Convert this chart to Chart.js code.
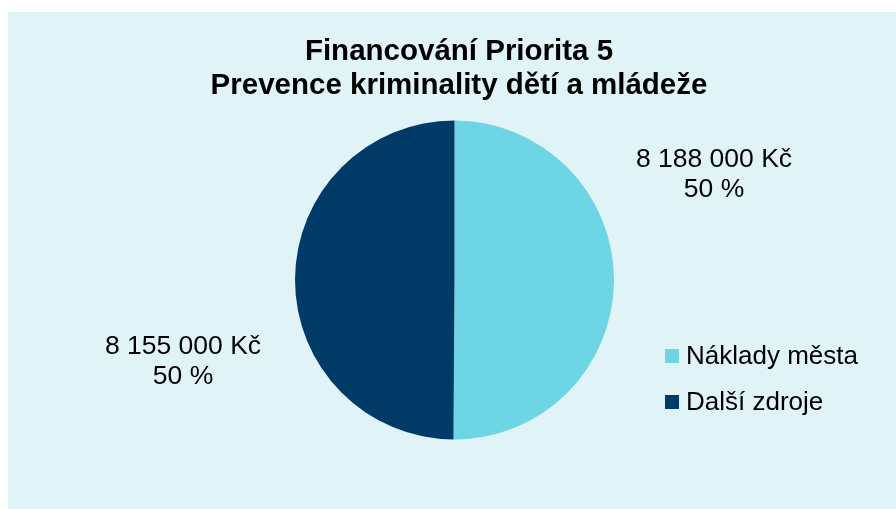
<!DOCTYPE html>
<html lang="cs">
<head>
  <meta charset="UTF-8" />
  <title>Financování Priorita 5</title>
  <script src="https://cdn.jsdelivr.net/npm/chart.js"></script>
  <style>
    body { margin: 0; background: #ffffff; }
    .panel {
      position: absolute;
      left: 8px;
      top: 12px;
      width: 888px;
      height: 497px;
      background: #e0f4f8;
    }
  </style>
</head>
<body>

<div class="panel">
  <canvas id="pieChart" width="888" height="497"></canvas>
</div>

<script>
  const titleLines = ['Financování Priorita 5', 'Prevence kriminality dětí a mládeže'];
  const categories = ['Náklady města', 'Další zdroje'];
  const amounts = [8188000, 8155000];
  const sliceColors = ['#6dd5e3', '#003a66'];
  // where the data labels sit (canvas px), one per slice
  const labelSpots = [[706, 148], [175, 335]];

  const fontName = '"Liberation Sans", Arial, sans-serif';

  function formatKc(v) {
    return String(v).replace(/\B(?=(\d{3})+(?!\d))/g, ' ') + ' Kč';
  }

  const extrasPlugin = {
    id: 'extras',
    afterDraw(chart) {
      const ctx = chart.ctx;
      const total = amounts.reduce((a, b) => a + b, 0);
      ctx.save();
      ctx.fillStyle = '#000000';
      ctx.textAlign = 'center';
      ctx.textBaseline = 'middle';

      // title
      ctx.font = 'bold 29.5px ' + fontName;
      ctx.fillText(titleLines[0], 451, 40);
      ctx.fillText(titleLines[1], 451, 74);

      // data labels
      ctx.font = '26.5px ' + fontName;
      chart.getDatasetMeta(0).data.forEach((arc, i) => {
        const [x, y] = labelSpots[i];
        const pct = Math.round(amounts[i] / total * 100);
        ctx.fillText(formatKc(amounts[i]), x, y);
        ctx.fillText(pct + ' %', x, y + 30);
      });

      // legend
      ctx.font = '26px ' + fontName;
      ctx.textAlign = 'left';
      categories.forEach((name, i) => {
        const y = 344 + i * 46;
        ctx.fillStyle = sliceColors[i];
        ctx.fillRect(657, y - 7, 14, 14);
        ctx.fillStyle = '#000000';
        ctx.fillText(name, 678, y + 1);
      });
      ctx.restore();
    }
  };

  new Chart(document.getElementById('pieChart').getContext('2d'), {
    type: 'pie',
    data: {
      labels: categories,
      datasets: [{
        data: amounts,
        backgroundColor: sliceColors,
        borderWidth: 0
      }]
    },
    options: {
      responsive: false,
      animation: false,
      layout: { padding: { top: 108, bottom: 69, left: 287, right: 282 } },
      plugins: {
        legend: { display: false },
        title: { display: false },
        tooltip: { enabled: false }
      }
    },
    plugins: [extrasPlugin]
  });
</script>

</body>
</html>
